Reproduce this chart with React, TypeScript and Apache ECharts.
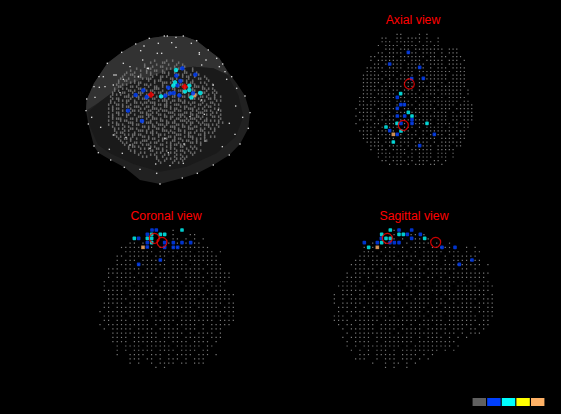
import React, { useEffect, useRef } from "react";
import * as echarts from "echarts";

// Titles and legend
const panelTitles = ["Axial view", "Coronal view", "Sagittal view"];
const legendColors = ["#606060", "#0040ff", "#00ffff", "#ffff00", "#ffb266"];
const legendValues = [1, 1, 1, 1, 1];

// 3D head surface outlines (read in panel units)
const hullOuter = [[48,272],[50,240],[72,190],[112,130],[155,97],[197,72],[238,55],[285,48],[340,48],[380,62],[415,90],[448,115],[470,150],[500,190],[525,228],[540,278],[535,325],[510,372],[478,405],[430,435],[382,460],[337,474],[270,492],[210,480],[163,442],[122,420],[85,398],[72,378],[55,312]];
const hullTop = [[48,272],[50,240],[72,190],[112,130],[155,97],[197,72],[238,55],[285,48],[340,48],[380,62],[415,90],[448,115],[470,150],[475,165],[430,145],[370,140],[300,150],[240,170],[170,195],[130,215],[90,245]];
const hullInner = [[54,276],[90,245],[130,215],[170,195],[240,170],[300,150],[370,140],[430,145],[472,165],[505,225],[520,290],[497,350],[440,400],[350,440],[270,455],[190,432],[120,400],[84,375],[60,320]];

const surfaceWhite = [[238,55],[283,48],[292,48],[318,52],[340,48],[364,70],[380,62],[197,72],[222,78],[265,70],[305,68],[155,97],[212,92],[262,100],[275,100],[318,82],[388,98],[388,103],[415,90],[440,115],[458,132],[112,130],[180,140],[132,165],[138,165],[218,120],[160,130],[235,145],[395,135],[408,120],[448,140],[465,155],[485,170],[87,170],[100,170],[72,200],[88,202],[105,200],[130,195],[160,178],[75,232],[50,237],[150,218],[48,272],[65,292],[55,312],[92,322],[130,345],[168,352],[72,378],[85,398],[118,388],[122,420],[157,400],[163,442],[210,448],[257,432],[260,460],[270,492],[337,474],[382,460],[430,435],[478,405],[457,380],[510,372],[495,343],[535,325],[518,292],[540,278],[497,258],[525,228],[500,205],[470,178],[478,310],[403,283],[405,363],[342,372],[295,398],[340,430],[300,437],[232,145],[205,170],[430,195],[395,240],[445,270],[360,290],[285,355],[240,385],[180,375]];

const surfaceNoise = [
"........................#.....#..#..........................",
"......................#.....##......#.......................",
"...................#.....#.....#...#..#.....................",
"...................#...#...##.....#....#....................",
"...............#.....##.......#.#...##.....#................",
"............#....#..#...##..#......#...#...#................",
"..........#...#.....#.#.....##.#..#....##....#..............",
".........#..##...#....#..#.....#...##.#...#...#.............",
"........#.....#.##.....#...##.#.......#.##..#....#..........",
".......#...#......#.###....#....##.#.....#....##..#.........",
"......#..##...#......#..#.##.....#...##.#..#.......#........",
"......#.....#.#.##......#...###.#.......#.##...#.#..........",
".....#..#.#.....#..##.#.....#....##.###.....#.....#..#......",
"......##....##.#.....#..##..#.#.....#..#.#..###.#...........",
"....#...#.#.....##.#....###....#.##....#...#....##.#.#......",
"....#.#....##.#.....#.##....#.....#.###..#.##.....#...#.....",
"...#....##...#..###.....#.##..#.#.....##...#..#.##...#.#....",
"...#.#.#...#.....#..##.#.....###..#.#....#.###.....#..#.....",
"..#......###.#.##....#...#.##....##...##.#.....##.#...#..#..",
"...#.##.....#...#.###..##....#.#....#.....###.#....##.#.....",
"..#...#.#.##..#......#....#.###..##.##.#.......#.#.....#.#..",
"..#.#.....#...##.#.##.###.....#.#.....##.#.##...#...##......",
".#...##.#...#.....#.....#.##.##...###.....#...##..#...#.#...",
"...#....#.##..###...##.#.....##.#....#.##...#....#.##.......",
".#.#.##.....#....#.#...###.#....#.##...#.###..#.#.....#.#...",
"...#....#.#..##.#....##...#.###...#.##.....#.#...##.#....#..",
".#...##.....#....##.#..#.#.....###.....##.#...###....#.#....",
"...#..#.#.##..#.....###...##.#....#.###...##.#....#.#....#..",
".#.#......#.....###..#.#.....##.##...#.#.....##.#....##.#...",
"...#.###....##.#....#..###.#....#..##...#.###..#..#......#..",
".#.....#.##....#.##...#....##.#...#..###.#...#...##.#.#.#...",
"...#.#.....###....#.###..#....##.##.....#.##..#.#.......#.#.",
".#...##.#....#.##......#..###.#....##.#...#....#.###.#.#....",
"...#.....#.#......##.#.##....#..###...##.#..##.....#....#...",
"....#.#.#...##.#.....#...##.#.....#.#....###...#.#..#.#.....",
"....#....#.#....###.#..#....###.#...##.#.....#.##.....#.....",
".....#.##.....#.....#.##.#.....#.##....#.##.#....#.#.#......",
"....#....#.#.##.##.....#..##.#.....###...#....##.#..........",
".....#.#.....#....##.#....#....##.#....#.###.....#..#.#.....",
"......#..##.#..#.....#.##...###...#.##.....#.#.#.#..........",
".......#....#.....###.....#.#....##...#.##...#....#.........",
"........#.#...##.#....#.##....#.#...#.....##.#.#............",
".........#...#....#.##.....##...#.##.#.#.......#............",
"...........#.##.#.....#.#.....#.#....##...#.#...............",
"...........#.....#.#.#...##.#...#.#.....#..#.#..............",
"............#.#.......##....#.#....#.##..#.....#............",
"..............#..#.#.....#.#....#.#....#..#.#...............",
"................#.....#.#....#.#...#.#.....#................",
"..................#.#....#..#.....#...#.#...................",
".........................#....#.#..#.#.#....................",
"..........................#..#....#...#.....................",
"...........................#.....#..#......................."
];

const surfaceBlue = [[337,145],[376,164],[319,167],[331,183],[295,203],[322,196],[220,211],[197,225],[230,231],[300,220],[311,219],[286,227],[328,226],[174,272],[216,303]];
const surfaceCyan = [[318,150],[315,187],[310,197],[358,197],[358,210],[345,214],[391,219],[364,232],[273,229]];
const surfaceOrange = [[373,226]];
const surfaceBlueTop = [[369,220]];
const surfaceRed = [[243,224],[344,200]];

// Axial slice
const axialMask = [
"...........##....#.#............",
".......##..##.####.#..#.........",
".......###.#####.#.##.#.........",
"......#.####.####.##.##.........",
"........###.###.########.###....",
"......##.####.###.####.#.###....",
"....##.####.#######.##.##.###...",
"....#.########.###.#####.###.#..",
".....##.#####.#####.####.####...",
"...#####.####.#####.#.###.####..",
"...###.#####.###.#########.###..",
"..#####.###.####.#.######.####..",
"..######.#.#####.########.####..",
"..#####.####.###.##.####.#####..",
"..####.######.##.#####.#######..",
"..#######.##.###.#.##########.#.",
"..###.#####.#####.####.######.#.",
".#####.####.##.#####.###.#####..",
".##.######.####.#.##########.##.",
".#####.###.#####.####.#####.####",
"#.###.######.##.######.###.#####",
".#####.###.###.#####.####.#.####",
"#.####.#.#####.##.#######.######",
".####.#####.###.#####.###.##.###",
"#..#.##.####.#.######.####.####.",
"..####.#.###.###.#.#####.###.##.",
".####.#####.###.#.########.###..",
"..###.####.##.###.#.####.#####..",
"..#####.###.####.#####.####.##..",
"...####.###.###.####.#.######...",
"....####.####.#.#####.####.##...",
"....#.###.####.######.#####.....",
"......####.###.#.####.###.#.....",
"......#.#####.##.####.###.#.....",
".......##.####.#.###.##.#.......",
".........#.##.#.###.##.#........"
];
const axialBlue = [[190,142],[134,177],[224,187],[200,221],[235,220],[157,277],[178,299],[167,299],[157,310],[157,333],[179,333],[201,344],[201,355],[168,355],[134,377],[157,388],[268,388],[224,422]];
const axialCyan = [[167,266],[190,322],[201,333],[246,355],[156,355],[123,366],[168,378],[145,411]];
const axialOrange = [[145,388]];
const axialCircles = [[193,237],[175,361]];

// Coronal slice
const coronalMask = [
".................#..............",
".................#...##.........",
".................##.#.#.#.......",
".......##.#.....#.#.#.##........",
".....########.##.#########......",
"......#######.########.####.#...",
"....##.#####.###.#.#########....",
"....#.###.######.###.#######....",
"....####.#######.####.##.####...",
"..###.####.###.#.########.###...",
"..######.####.#####.####.######.",
"..#.#####.##.######.#####.#####.",
".#.#########.#.#####.######.##..",
".#.#####.####.#####.#####.###...",
".#####.###.########.####.#.###..",
"..####.########.#.#######.######",
"..#####.###.#.#########.#######.",
".#####.########.###.#########.##",
".##.#########.#.######.#####.###",
"#.#########.#######.###.########",
".#####.####.##.########.#####.##",
".##.###.####.#####.########.####",
"#.##########.#.##.#####.#.#####.",
".#.#####.####.#####.###.#.###...",
"...#######.###.#####.#.####.#...",
"...####.######.####.#####.###...",
"...####.########.####.####.#....",
"....#.####.######.######.##.....",
"....#.#.#####.####.####.##......",
"....#..####.###.#.####.###.#....",
".......###.##.#.###.#.###.......",
".......#.#..#.####.##.###.......",
".............#.#................"
];
const coronalBlue = [[171,75],[184,75],[157,88],[131,100],[157,113],[157,126],[209,113],[235,113],[261,113],[287,113],[209,127],[235,127],[248,127],[196,165],[131,178]];
const coronalCyan = [[261,75],[170,88],[196,88],[209,88],[118,100],[157,100],[170,100],[170,113]];
const coronalOrange = [[144,127]];
const coronalCircles = [[178,100],[201,112]];

// Sagittal slice
const sagittalMask = [
"..............#.......................",
"..............#...##.#................",
"..............#.#..##.#...............",
".........#..#....#.####.#..#..........",
".......#.##.###.#.####.#####...#.#....",
".......###.#.#####.#.#####.###.#.##...",
"......#####.###.####.####.#.######....",
".....###.########.#.#####.#.#######...",
"....####.####.####.###.##.#########.#.",
".....#####.###.####.#.#######.##.#....",
"...#.########.#.######.####.#########.",
"...####.#.#######.###.##.#.#########..",
"..#####.####.###.##.###.#####.#.#####.",
".#####.#.#.#####.######.####.#####.###",
"..######.########.#.########.########.",
"#.###.########.####.###.#.##########.#",
"#.#.######.#######.####.##.#######.###",
"#.#####.####.###.######.###.#.###.####",
".###.#.#.########.####.##.#########.##",
".#.######.#####.#####.#.#########.####",
"###.#.#######.#.######.###.#######.###",
"####.######.########.#####.#######.##.",
".#.##.####.######.#.###.#########.###.",
"..#.######.####.#####.#####.###.##.#..",
"...#.#########.#.########.###.#.###...",
"..#.#####.#########.#.####.#.#.#......",
"...#.####.#.#######.#########.........",
"...#.#.#########.#.#########.#........",
"....#.#.#.###.#.#########.#.#.........",
"......###.#####.####.#.#..............",
".....###..#.###.###.#.#...............",
".........#..#.##.#.#..................",
"............#.#..#...................."
];
const sagittalBlue = [[207,75],[245,75],[271,88],[232,88],[245,100],[154,100],[103,113],[142,113],[180,113],[193,113],[207,113],[336,127],[375,127],[426,165],[388,178]];
const sagittalCyan = [[181,75],[155,88],[207,88],[220,88],[168,100],[181,100],[284,100],[155,113],[116,127]];
const sagittalOrange = [[142,127]];
const sagittalCircles = [[172,100],[317,112]];

function maskPoints(mask: string[], x0: number, dx: number, y0: number, dy: number) {
  const pts: number[][] = [];
  mask.forEach((row, r) => {
    for (let c = 0; c < row.length; c++) {
      if (row[c] === "#") pts.push([x0 + c * dx, y0 + r * dy]);
    }
  });
  return pts;
}

const BLUE = "#0040ff";
const CYAN = "#00ffff";
const ORANGE = "#ffb266";

function scatter(idx: number, data: number[][], color: string, size: any, symbol = "rect", z = 5): any {
  return {
    type: "scatter",
    xAxisIndex: idx,
    yAxisIndex: idx,
    data,
    symbol,
    symbolSize: size,
    itemStyle: { color },
    silent: true,
    progressive: 0,
    z,
    clip: false,
  };
}

function rings(idx: number, data: number[][]): any {
  return {
    type: "scatter",
    xAxisIndex: idx,
    yAxisIndex: idx,
    data,
    symbol: "circle",
    symbolSize: 10,
    itemStyle: { color: "transparent", borderColor: "#ff0000", borderWidth: 1.2 },
    silent: true,
    z: 8,
    clip: false,
  };
}

function hull(points: number[][], fill: string, z: number): any {
  return {
    type: "custom",
    xAxisIndex: 0,
    yAxisIndex: 0,
    data: [[0, 0]],
    silent: true,
    clip: false,
    z,
    renderItem: (_p: any, api: any) => ({
      type: "polygon",
      shape: { points: points.map((q) => api.coord(q)) },
      style: { fill },
    }),
  };
}

export default function App() {
  const ref = useRef<HTMLDivElement>(null);
  useEffect(() => {
    document.body.style.margin = "0";
    document.body.style.background = "#000";
    const chart = echarts.init(ref.current!, undefined, { renderer: "svg" });

    const panels = [
      { left: 70, top: 20, width: 190, height: 175, xMax: 570, yMax: 525 },
      { left: 345, top: 5, width: 130, height: 160, xMax: 390, yMax: 480 },
      { left: 95, top: 205, width: 140, height: 165, xMax: 420, yMax: 495 },
      { left: 330, top: 205, width: 170, height: 165, xMax: 510, yMax: 495 },
    ];
    const titlePos = [
      { left: 408, top: 9 },
      { left: 161, top: 205 },
      { left: 409, top: 205 },
    ];

    const grey = "#9a9a9a";
    const dot = 1.2;
    const mark = 3.6;

    chart.setOption({
      animation: false,
      backgroundColor: "#000000",
      title: panelTitles.map((text, i) => ({
        text,
        left: titlePos[i].left,
        top: titlePos[i].top,
        textAlign: "center",
        textStyle: { color: "#ff0000", fontSize: 12.3, fontWeight: "normal", fontFamily: "Liberation Sans" },
      })),
      grid: [
        ...panels.map((p) => ({ left: p.left, top: p.top, width: p.width, height: p.height, show: false })),
        { left: 472, top: 398, width: 73, height: 8, show: false },
      ],
      xAxis: [
        ...panels.map((p, i) => ({ type: "value", gridIndex: i, min: 0, max: p.xMax, show: false })),
        { type: "category", gridIndex: 4, data: legendColors, show: false },
      ],
      yAxis: [
        ...panels.map((p, i) => ({ type: "value", gridIndex: i, min: 0, max: p.yMax, inverse: true, show: false })),
        { type: "value", gridIndex: 4, min: 0, max: 1, show: false },
      ],
      series: [
        hull(hullOuter, "#212121", 1),
        hull(hullTop, "#323232", 1.5),
        hull(hullInner, "#1a1a1a", 2),
        scatter(0, maskPoints(surfaceNoise, 110, 6, 122, 6), "#7d7d7d", [1.5, 2.5], "rect", 3),
        scatter(0, surfaceWhite, "#ffffff", 1.4, "rect", 4),
        scatter(0, surfaceOrange, ORANGE, 4, "rect", 5),
        scatter(0, surfaceBlue, BLUE, 4.5, "circle", 6),
        scatter(0, surfaceCyan, CYAN, 4.5, "circle", 6),
        scatter(0, surfaceBlueTop, BLUE, 4.5, "circle", 7),
        scatter(0, surfaceRed, "#ff0000", 7, "diamond", 8),

        scatter(1, maskPoints(axialMask, 33, 11.2, 88, 11.15), grey, dot),
        scatter(1, axialBlue, BLUE, mark, "roundRect", 6),
        scatter(1, axialCyan, CYAN, mark, "roundRect", 6),
        scatter(1, axialOrange, ORANGE, mark, "rect", 7),
        rings(1, axialCircles),

        scatter(2, maskPoints(coronalMask, 15, 12.9, 76, 12.85), grey, dot),
        scatter(2, coronalBlue, BLUE, mark, "roundRect", 6),
        scatter(2, coronalCyan, CYAN, mark, "roundRect", 6),
        scatter(2, coronalOrange, ORANGE, mark, "rect", 7),
        rings(2, coronalCircles),

        scatter(3, maskPoints(sagittalMask, 13, 12.8, 76, 12.85), grey, dot),
        scatter(3, sagittalBlue, BLUE, mark, "roundRect", 6),
        scatter(3, sagittalCyan, CYAN, mark, "roundRect", 6),
        scatter(3, sagittalOrange, ORANGE, mark, "rect", 7),
        rings(3, sagittalCircles),

        {
          type: "bar",
          xAxisIndex: 4,
          yAxisIndex: 4,
          data: legendValues.map((value, i) => ({ value, itemStyle: { color: legendColors[i] } })),
          barCategoryGap: "8%",
          silent: true,
        },
      ],
    });
    return () => chart.dispose();
  }, []);
  return <div ref={ref} style={{ width: 561, height: 414, background: "#000" }} />;
}
